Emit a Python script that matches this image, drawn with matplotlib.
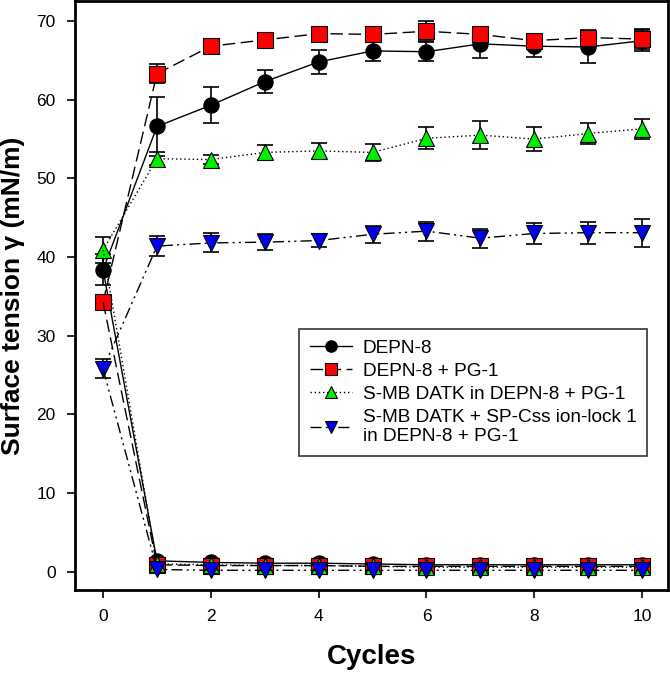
import numpy as np
import matplotlib.pyplot as plt

plt.rcParams['font.family'] = ['Liberation Sans', 'DejaVu Sans']

cycles = np.arange(0, 11)

# maximum surface tension per cycle (mN/m)
depn_max = [38.4, 56.6, 59.3, 62.3, 64.8, 66.2, 66.1, 67.1, 66.8, 66.7, 67.5]
depn_max_err = [2.0, 3.8, 2.3, 1.5, 1.5, 1.3, 1.2, 1.8, 1.4, 2.0, 1.3]
pg_max = [34.3, 63.3, 66.8, 67.6, 68.4, 68.3, 68.7, 68.3, 67.5, 67.9, 67.7]
pg_max_err = [0.6, 1.2, 0.5, 0.5, 0.5, 0.9, 1.3, 0.8, 0.9, 0.9, 1.3]
smb_max = [40.9, 52.5, 52.4, 53.3, 53.5, 53.3, 55.1, 55.5, 55.0, 55.7, 56.3]
smb_max_err = [1.6, 0.8, 0.6, 1.0, 1.0, 1.1, 1.4, 1.8, 1.5, 1.3, 1.3]
ion_max = [25.8, 41.4, 41.8, 41.9, 42.1, 42.9, 43.3, 42.4, 43.0, 43.1, 43.1]
ion_max_err = [1.2, 1.3, 1.2, 1.0, 0.8, 1.1, 1.2, 1.2, 1.3, 1.4, 1.8]

# minimum surface tension per cycle (cycle 0 = initial value)
depn_min = [38.4, 1.4, 1.2, 1.1, 1.1, 1.0, 0.9, 0.9, 0.9, 0.9, 0.9]
pg_min = [34.3, 0.9, 0.8, 0.8, 0.8, 0.7, 0.7, 0.7, 0.7, 0.7, 0.7]
smb_min = [40.9, 1.0, 0.9, 0.8, 0.8, 0.7, 0.6, 0.6, 0.6, 0.6, 0.6]
ion_min = [25.8, 0.3, 0.2, 0.2, 0.2, 0.2, 0.2, 0.2, 0.2, 0.2, 0.2]

labels = ['DEPN-8', 'DEPN-8 + PG-1', 'S-MB DATK in DEPN-8 + PG-1',
          'S-MB DATK + SP-Css ion-lock 1\nin DEPN-8 + PG-1']

series = [
    (depn_max, depn_max_err, depn_min, 'o', 'black', '-'),
    (pg_max, pg_max_err, pg_min, 's', 'red', (0, (9, 4))),
    (smb_max, smb_max_err, smb_min, '^', '#00ee00', (0, (1, 2))),
    (ion_max, ion_max_err, ion_min, 'v', '#0000ee', (0, (8, 3, 1.5, 3, 1.5, 3))),
]

fig = plt.figure(figsize=(6.7, 6.75), dpi=100)
ax = fig.add_axes([0.112, 0.126, 0.885, 0.872])

handles = []
for (ymax, yerr, ymin, mk, col, ls), lab in zip(series, labels):
    ax.errorbar(cycles, ymax, yerr=yerr, fmt='none', ecolor='black',
                elinewidth=1.2, capsize=6, capthick=1.2, zorder=2)
    h, = ax.plot(cycles, ymax, linestyle=ls, color='black', lw=1.0,
                 marker=mk, markersize=11, markerfacecolor=col,
                 markeredgecolor='black', markeredgewidth=0.8, zorder=3)
    ax.plot(cycles, ymin, linestyle=ls, color='black', lw=1.0,
            marker=mk, markersize=11, markerfacecolor=col,
            markeredgecolor='black', markeredgewidth=0.8, markevery=list(range(1, 11)),
            zorder=3)
    handles.append(h)

ax.set_xlim(-0.52, 10.48)
ax.set_ylim(-2.3, 72.5)
ax.set_xticks(range(0, 11, 2))
ax.set_yticks(range(0, 71, 10))
ax.tick_params(direction='out', length=6, width=1.2, labelsize=12.5, pad=8)
for s in ax.spines.values():
    s.set_linewidth(2)

ax.set_xlabel('Cycles', fontsize=20, fontweight='bold', labelpad=14)
ax.set_ylabel('Surface tension γ (mN/m)', fontsize=19, fontweight='bold', labelpad=8)

leg = ax.legend(handles, labels, loc='upper left', bbox_to_anchor=(0.378, 0.443),
                borderaxespad=0, fontsize=13.7, frameon=True, fancybox=False,
                edgecolor='black', markerscale=0.75, handlelength=2.2,
                handletextpad=0.6, borderpad=0.55, labelspacing=0.3)
leg.get_frame().set_linewidth(1.2)

fig.savefig('out.png', dpi=100)
